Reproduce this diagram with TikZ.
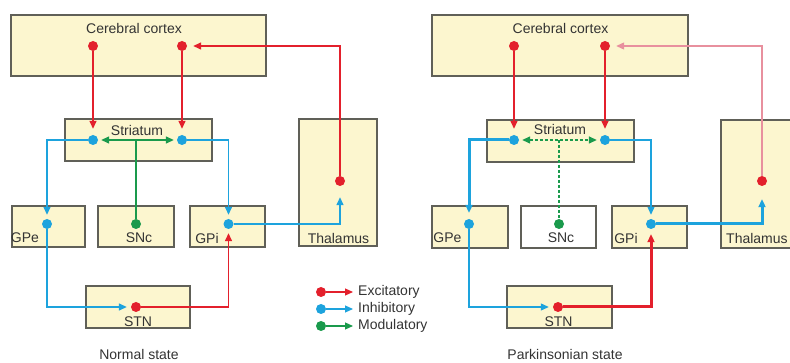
\documentclass[tikz,border=0pt]{standalone}
\usepackage{fontspec}
\setmainfont{Liberation Sans}
\usetikzlibrary{arrows.meta}
\definecolor{boxfill}{HTML}{FCF6CF}
\definecolor{boxline}{HTML}{606058}
\definecolor{exccol}{HTML}{E3202C}
\definecolor{inhcol}{HTML}{1DA3DD}
\definecolor{modcol}{HTML}{1A9A4C}
\definecolor{pinkcol}{HTML}{E8909E}
\tikzset{
  box/.style={draw=boxline, fill=boxfill, line width=1.1pt, inner sep=0pt},
  whitebox/.style={box, fill=white},
  txt/.style={inner sep=0pt, font=\fontsize{14}{16}\selectfont, text=black!80},
  dot/.style={circle, inner sep=0pt, minimum size=10pt},
  rdot/.style={dot, fill=exccol},
  bdot/.style={dot, fill=inhcol},
  gdot/.style={dot, fill=modcol},
  tip/.style={-{Triangle[length=8pt,width=7pt]}},
  exc/.style={tip, draw=exccol, line width=1.4pt, shorten >=4pt},
  inh/.style={tip, draw=inhcol, line width=1.4pt, shorten >=4pt},
  mod/.style={draw=modcol, line width=1.4pt},
  thick3/.style={line width=3pt},
  thin1/.style={line width=1.1pt},
}
\begin{document}
\begin{tikzpicture}[x=1pt, y=-1pt]
\useasboundingbox (0,0) rectangle (790,363);
\clip (0,0) rectangle (790,363);

% ---------------- Left panel: Normal state ----------------
\node[box, minimum width=255pt, minimum height=61pt] (ctxL) at (138.5,45.5) {};
\node[box, minimum width=147pt, minimum height=42pt] (strL) at (138.5,140) {};
\node[box, minimum width=78pt, minimum height=127pt] (thalL) at (338,182.5) {};
\node[box, minimum width=73pt, minimum height=41pt] (gpeBL) at (48.5,226.5) {};
\node[box, minimum width=76pt, minimum height=41pt] (sncBL) at (136,226.5) {};
\node[box, minimum width=75pt, minimum height=41pt] (gpiBL) at (227.5,226.5) {};
\node[box, minimum width=104pt, minimum height=42pt] (stnBL) at (138,307) {};

\node[txt] (tCtxL) at (134,28) {Cerebral cortex};
\node[txt] (tStrL) at (137,130) {Striatum};
\node[txt] (tGpeL) at (25,238) {GPe};
\node[txt] (tSncL) at (139,238) {SNc};
\node[txt] (tGpiL) at (207,238) {GPi};
\node[txt] (tThL) at (338.5,238) {Thalamus};
\node[txt] (tStnL) at (138,322) {STN};
\node[txt] (tNormal) at (139,354.5) {Normal state};

\node[rdot] (cL1) at (93,46) {};
\node[rdot] (cL2) at (182,46) {};
\node[bdot] (sL1) at (93,140) {};
\node[bdot] (sL2) at (182,140) {};
\coordinate (gmL) at (136,140);
\node[gdot] (sncL) at (136,224) {};
\node[bdot] (gpeL) at (47,224) {};
\node[bdot] (gpiL) at (228.5,224) {};
\node[rdot] (thL) at (340,181) {};
\node[rdot] (stnL) at (136,307) {};

\draw[exc, shorten >=6pt] (cL1) -- (sL1);
\draw[exc, shorten >=6pt] (cL2) -- (sL2);
\draw[exc, shorten >=6pt] (thL) |- (cL2);
\draw[mod, {Triangle[length=8pt,width=7pt]}-{Triangle[length=8pt,width=7pt]}, shorten <=3pt, shorten >=3pt] (sL1) -- (sL2);
\draw[mod] (gmL) -- (sncL);
\draw[inh] (sL1) -| (gpeL);
\draw[inh] (sL2) -| (gpiL);
\draw[inh, shorten >=11pt] (gpiL) -| (thL);
\draw[inh] (gpeL) |- (stnL);
\draw[exc] (stnL) -| (gpiL);

% ---------------- Legend ----------------
\node[rdot] (lgR) at (321,292) {};
\node[bdot] (lgB) at (321,309) {};
\node[gdot] (lgG) at (321,326) {};
\coordinate (lgRe) at (353,292);
\coordinate (lgBe) at (353,309);
\coordinate (lgGe) at (353,326);
\draw[exc, shorten >=0pt, line width=1.2pt] (lgR) -- (lgRe);
\draw[inh, shorten >=0pt, line width=1.2pt] (lgB) -- (lgBe);
\draw[mod, tip, line width=1.2pt] (lgG) -- (lgGe);
\node[txt, anchor=west] (lgRt) at (358,292) {Excitatory};
\node[txt, anchor=west] (lgBt) at (358,309) {Inhibitory};
\node[txt, anchor=west] (lgGt) at (358,326) {Modulatory};

% ---------------- Right panel: Parkinsonian state ----------------
\node[box, minimum width=256pt, minimum height=61pt] (ctxR) at (560,45.5) {};
\node[box, minimum width=147pt, minimum height=42pt] (strR) at (560.5,141) {};
\node[box, minimum width=90pt, minimum height=128pt] (thalR) at (766,184) {};
\node[box, minimum width=76pt, minimum height=42pt] (gpeBR) at (470,227) {};
\node[whitebox, minimum width=75pt, minimum height=42pt] (sncBR) at (558.5,227) {};
\node[box, minimum width=75pt, minimum height=42pt] (gpiBR) at (649.5,227) {};
\node[box, minimum width=105pt, minimum height=42pt] (stnBR) at (559.5,307) {};

\node[txt] (tCtxR) at (560.5,28) {Cerebral cortex};
\node[txt] (tStrR) at (560,129) {Striatum};
\node[txt] (tGpeR) at (447.5,238) {GPe};
\node[txt] (tSncR) at (561,238) {SNc};
\node[txt] (tGpiR) at (626,238) {GPi};
\node[txt, anchor=west] (tThR) at (726,238) {Thalamus};
\node[txt] (tStnR) at (558.5,322) {STN};
\node[txt] (tPark) at (565,354.5) {Parkinsonian state};

\node[rdot] (cR1) at (514,46) {};
\node[rdot] (cR2) at (605,46) {};
\node[bdot] (sR1) at (514,140) {};
\node[bdot] (sR2) at (605,140) {};
\coordinate (gmR) at (559,140);
\node[gdot] (sncR) at (559,224) {};
\node[bdot] (gpeR) at (469,224) {};
\node[bdot] (gpiR) at (651,224) {};
\node[rdot] (thR) at (762,181) {};
\node[rdot] (stnR) at (558,307) {};

\draw[exc, shorten >=6pt] (cR1) -- (sR1);
\draw[exc, shorten >=6pt] (cR2) -- (sR2);
\draw[exc, draw=pinkcol, thin1, shorten >=6pt] (thR) |- (cR2);
\draw[mod, dash pattern=on 3pt off 2pt, {Triangle[length=8pt,width=7pt]}-{Triangle[length=8pt,width=7pt]}, shorten <=3pt, shorten >=3pt] (sR1) -- (sR2);
\draw[mod, dash pattern=on 3pt off 2pt] (gmR) -- (sncR);
\draw[inh, thick3, shorten >=6pt] (sR1) -| (gpeR);
\draw[inh, thin1] (sR2) -| (gpiR);
\draw[inh, thick3, shorten >=13pt] (gpiR) -| (thR);
\draw[inh, thin1] (gpeR) |- (stnR);
\draw[exc, thick3, shorten >=5pt] (stnR) -| (gpiR);
\end{tikzpicture}
\end{document}
